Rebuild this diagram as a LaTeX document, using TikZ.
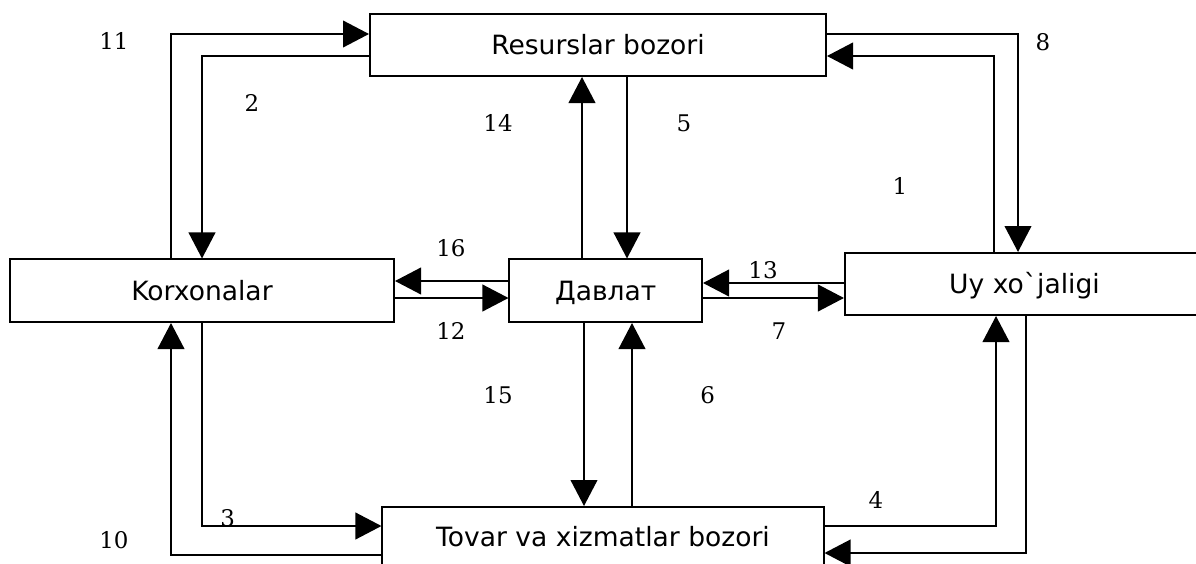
\documentclass[tikz,border=0pt]{standalone}
\usepackage{fontspec}
\setmainfont{DejaVu Serif}
\newfontfamily\boxfont{DejaVu Sans}
\usetikzlibrary{arrows.meta}
\begin{document}
\begin{tikzpicture}[x=0.75pt,y=-0.75pt,
  blk/.style={draw,line width=1.5pt,inner sep=0pt,anchor=center,
    font=\boxfont\fontsize{19.9}{24}\selectfont,text height=14.5pt,text depth=0pt},
  arr/.style={line width=1.4pt,-{Triangle[length=19.5pt,width=20pt]}},
  lbl/.style={inner sep=0pt,anchor=center,font=\fontsize{17.2}{21}\selectfont,text height=12.5pt,text depth=0pt}]
\clip (0,0) rectangle (1196,564);
\fill[white] (0,0) rectangle (1196,564);
% boxes
\node[blk,minimum width=342pt,minimum height=46.5pt] (res) at (598,45) {Resurslar bozori};
\node[blk,minimum width=288pt,minimum height=46.9pt] (kor) at (202,290.75) {Korxonalar};
\node[blk,minimum width=144.4pt,minimum height=46.9pt] (dav) at (605.75,290.75) {Давлат};
\node[blk,minimum width=269.3pt,minimum height=46.5pt] (uy) at (1024.5,284) {Uy xo`jaligi};
\node[blk,minimum width=330.8pt,minimum height=45pt] (tov) at (603,537) {Tovar va xizmatlar bozori};
% connectors
\draw[arr] (171,0 |- kor.north) |- (res.west |- 0,34);
\draw[arr] (res.west |- 0,56) -| (202,0 |- kor.north);
\draw[arr] (res.east |- 0,34) -| (1018,0 |- uy.north);
\draw[arr] (994,0 |- uy.north) |- (res.east |- 0,56);
\draw[arr] (582,0 |- dav.north) -- (582,0 |- res.south);
\draw[arr] (627,0 |- res.south) -- (627,0 |- dav.north);
\draw[arr] (dav.west |- 0,281) -- (kor.east |- 0,281);
\draw[arr] (kor.east |- 0,298) -- (dav.west |- 0,298);
\draw[arr] (uy.west |- 0,283) -- (dav.east |- 0,283);
\draw[arr] (dav.east |- 0,298) -- (uy.west |- 0,298);
\draw[arr] (584,0 |- dav.south) -- (584,0 |- tov.north);
\draw[arr] (632,0 |- tov.north) -- (632,0 |- dav.south);
\draw[arr] (tov.west |- 0,555) -| (171,0 |- kor.south);
\draw[arr] (202,0 |- kor.south) |- (tov.west |- 0,526);
\draw[arr] (tov.east |- 0,526) -| (996,0 |- uy.south);
\draw[arr] (1026,0 |- uy.south) |- (tov.east |- 0,553);
% labels
\node[lbl] (l11) at (114,41) {11};
\node[lbl] (l2) at (252,103) {2};
\node[lbl] (l14) at (498,123) {14};
\node[lbl] (l5) at (684,123) {5};
\node[lbl] (l8) at (1043,42) {8};
\node[lbl] (l1) at (900,186) {1};
\node[lbl] (l16) at (451,248) {16};
\node[lbl] (l12) at (451,331) {12};
\node[lbl] (l13) at (763,270) {13};
\node[lbl] (l7) at (779,331) {7};
\node[lbl] (l15) at (498,395) {15};
\node[lbl] (l6) at (707.7,395) {6};
\node[lbl] (l3) at (227.7,518) {3};
\node[lbl] (l10) at (114,540) {10};
\node[lbl] (l4) at (876,500) {4};
\end{tikzpicture}
\end{document}
